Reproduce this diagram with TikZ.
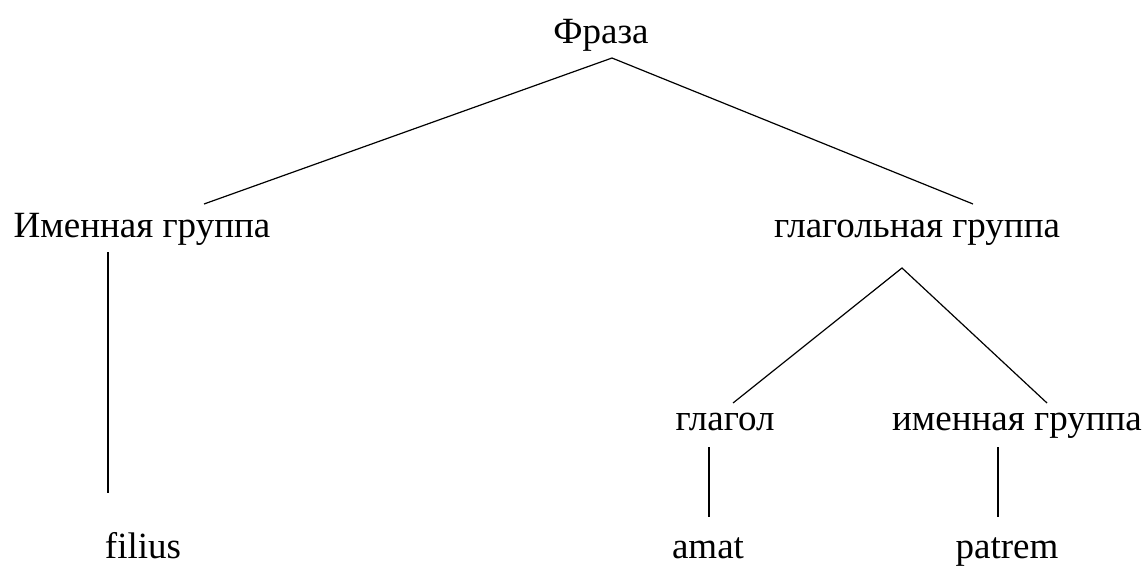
\documentclass[tikz,border=0pt]{standalone}
\usepackage{fontspec}
\setmainfont{Liberation Serif}
\newfontfamily\treefont{Liberation Serif}
\begin{document}
\begin{tikzpicture}[x=1pt,y=-1pt,
  lbl/.style={anchor=base,inner sep=0pt,font=\treefont\fontsize{37}{42}\selectfont},
  edge/.style={line width=1.2pt,black}]
\useasboundingbox (0,0) rectangle (1148,566);
\fill[white] (0,0) rectangle (1148,566);
\node[lbl] (fraza) at (601,43) {Фраза};
\node[lbl] (ig1) at (142,237) {Именная группа};
\node[lbl] (gg) at (917,237) {глагольная группа};
\node[lbl] (gl) at (725,430) {глагол};
\node[lbl] (ig2) at (1017,430) {именная группа};
\node[lbl] (filius) at (143,558) {filius};
\node[lbl] (amat) at (708,558) {amat};
\node[lbl] (patrem) at (1007,558) {patrem};
\coordinate (frazaTop) at (612,58);
\coordinate (ig1Top) at (204,204);
\coordinate (ggTop) at (973,204);
\coordinate (ggBot) at (902,268);
\coordinate (glTop) at (733,403);
\coordinate (ig2Top) at (1047,403);
\coordinate (ig1Bot) at (108,252);
\coordinate (filiusTop) at (108,493);
\coordinate (glBot) at (709,447);
\coordinate (amatTop) at (709,517);
\coordinate (ig2Bot) at (998,447);
\coordinate (patremTop) at (998,517);
\draw[edge] (ig1Top) -- (frazaTop) -- (ggTop);
\draw[edge] (glTop) -- (ggBot) -- (ig2Top);
\draw[edge] (ig1Bot) -- (filiusTop);
\draw[edge] (glBot) -- (amatTop);
\draw[edge] (ig2Bot) -- (patremTop);
\end{tikzpicture}
\end{document}
